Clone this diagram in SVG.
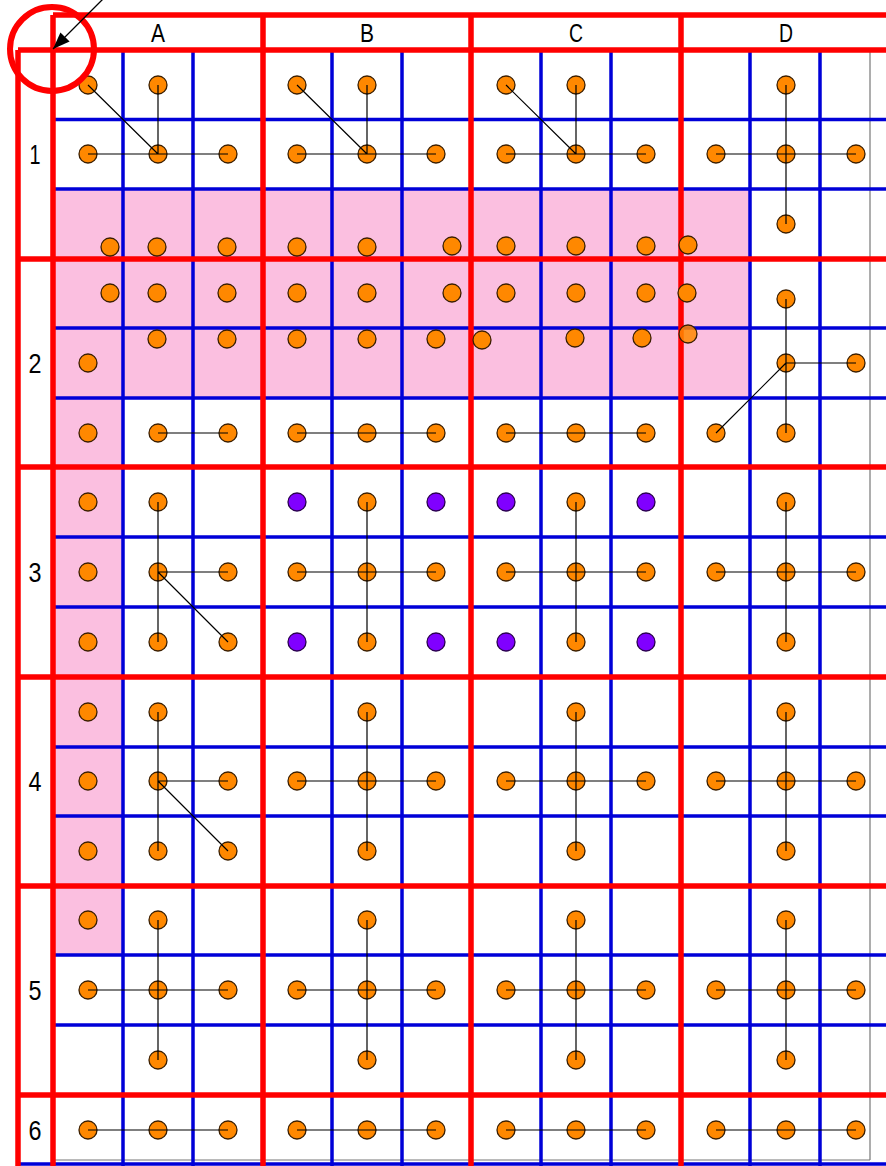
<svg xmlns="http://www.w3.org/2000/svg" width="886" height="1166" viewBox="0 0 886 1166">
<style>
.bg{fill:#ffffff}
.pink{fill:#fbbfe0}
.red{stroke:#ff0000;stroke-width:5.5;fill:none}
.blue{stroke:#0000d8;stroke-width:3.5;fill:none}
.thin{stroke:#777;stroke-width:1.2;fill:none}
.o{fill:#ff8800;stroke:#3a1e00;stroke-width:1.3}
.p{fill:#8000ff;stroke:#2a0050;stroke-width:1.3}
.c{stroke:#000;stroke-width:1.2;fill:none}
.hd{font-family:"Liberation Sans","DejaVu Sans",sans-serif;font-size:25px;fill:#000;text-anchor:middle}
.rl{font-family:"Liberation Sans","DejaVu Sans",sans-serif;font-size:27px;fill:#000;text-anchor:middle}
</style>
<defs>
<marker id="ah" markerWidth="17" markerHeight="13" refX="17" refY="6.5" orient="auto" markerUnits="userSpaceOnUse" viewBox="0 0 17 13">
<path d="M0,0 L17,6.5 L0,13 z" fill="#000"/>
</marker>
</defs>
<rect class="bg" x="0" y="0" width="886" height="1166"/>
<g id="pink-area">
<rect class="pink" x="53" y="189" width="697" height="209"/>
<rect class="pink" x="53" y="398" width="70" height="557"/>
</g>
<g id="grid">
<path class="thin" d="M870,50 V1160 M53,1160 H870"/>
<path class="blue" d="M123,50V1166 M193,50V1166 M332,50V1166 M402,50V1166 M541,50V1166 M611,50V1166 M750,50V1166 M820,50V1166"/>
<path class="blue" d="M53,119.5H886 M53,189H886 M53,328H886 M53,398H886 M53,537H886 M53,607H886 M53,747H886 M53,816H886 M53,955H886 M53,1025H886 M18,1164H886"/>
<path class="red" d="M18,50V1166 M53,15V1166 M263,15V1166 M471,15V1166 M681,15V1166"/>
<path class="red" d="M53,15H886 M18,50H886 M18,259H886 M18,467H886 M18,677H886 M18,886H886 M18,1095H886"/>
</g>
<g id="headers">
<text class="hd" x="158" y="42" textLength="14" lengthAdjust="spacingAndGlyphs">A</text>
<text class="hd" x="367" y="42" textLength="14" lengthAdjust="spacingAndGlyphs">B</text>
<text class="hd" x="576" y="42" textLength="14" lengthAdjust="spacingAndGlyphs">C</text>
<text class="hd" x="786" y="42" textLength="14" lengthAdjust="spacingAndGlyphs">D</text>
</g>
<g id="row-labels">
<text class="rl" x="35" y="164" textLength="11" lengthAdjust="spacingAndGlyphs">1</text>
<text class="rl" x="35" y="373" textLength="13" lengthAdjust="spacingAndGlyphs">2</text>
<text class="rl" x="35" y="582" textLength="13" lengthAdjust="spacingAndGlyphs">3</text>
<text class="rl" x="35" y="791" textLength="13" lengthAdjust="spacingAndGlyphs">4</text>
<text class="rl" x="35" y="1000" textLength="13" lengthAdjust="spacingAndGlyphs">5</text>
<text class="rl" x="35" y="1140" textLength="13" lengthAdjust="spacingAndGlyphs">6</text>
</g>
<g id="nodes">
<g id="n-A1"><circle class="o" cx="88" cy="85" r="9"/><circle class="o" cx="158" cy="85" r="9"/><circle class="o" cx="88" cy="154" r="9"/><circle class="o" cx="158" cy="154" r="9"/><circle class="o" cx="228" cy="154" r="9"/></g>
<g id="n-B1"><circle class="o" cx="297" cy="85" r="9"/><circle class="o" cx="367" cy="85" r="9"/><circle class="o" cx="297" cy="154" r="9"/><circle class="o" cx="367" cy="154" r="9"/><circle class="o" cx="436" cy="154" r="9"/></g>
<g id="n-C1"><circle class="o" cx="506" cy="85" r="9"/><circle class="o" cx="576" cy="85" r="9"/><circle class="o" cx="506" cy="154" r="9"/><circle class="o" cx="576" cy="154" r="9"/><circle class="o" cx="646" cy="154" r="9"/></g>
<g id="n-D1"><circle class="o" cx="786" cy="85" r="9"/><circle class="o" cx="716" cy="154" r="9"/><circle class="o" cx="786" cy="154" r="9"/><circle class="o" cx="856" cy="154" r="9"/><circle class="o" cx="786" cy="224" r="9"/></g>
<g id="n-pink-row1">
<circle class="o" cx="110" cy="247" r="9"/><circle class="o" cx="157" cy="247" r="9"/><circle class="o" cx="227" cy="247" r="9"/><circle class="o" cx="297" cy="247" r="9"/><circle class="o" cx="367" cy="247" r="9"/><circle class="o" cx="452" cy="246" r="9"/><circle class="o" cx="506" cy="246" r="9"/><circle class="o" cx="576" cy="246" r="9"/><circle class="o" cx="646" cy="246" r="9"/><circle class="o" cx="688" cy="245" r="9"/>
</g>
<g id="n-pink-row2">
<circle class="o" cx="110" cy="293" r="9"/><circle class="o" cx="157" cy="293" r="9"/><circle class="o" cx="227" cy="293" r="9"/><circle class="o" cx="297" cy="293" r="9"/><circle class="o" cx="367" cy="293" r="9"/><circle class="o" cx="452" cy="293" r="9"/><circle class="o" cx="506" cy="293" r="9"/><circle class="o" cx="576" cy="293" r="9"/><circle class="o" cx="646" cy="293" r="9"/><circle class="o" cx="687" cy="293" r="9"/>
</g>
<g id="n-pink-row3">
<circle class="o" cx="157" cy="339" r="9"/><circle class="o" cx="227" cy="339" r="9"/><circle class="o" cx="297" cy="339" r="9"/><circle class="o" cx="367" cy="339" r="9"/><circle class="o" cx="436" cy="339" r="9"/><circle class="o" cx="482" cy="340" r="9"/><circle class="o" cx="575" cy="338" r="9"/><circle class="o" cx="642" cy="338" r="9"/><circle class="o" cx="688" cy="334" r="9" fill-opacity="0.85"/>
<circle class="o" cx="88" cy="363" r="9"/>
</g>
<g id="n-row2-bottom">
<circle class="o" cx="88" cy="433" r="9"/><circle class="o" cx="158" cy="433" r="9"/><circle class="o" cx="228" cy="433" r="9"/><circle class="o" cx="297" cy="433" r="9"/><circle class="o" cx="367" cy="433" r="9"/><circle class="o" cx="436" cy="433" r="9"/><circle class="o" cx="506" cy="433" r="9"/><circle class="o" cx="576" cy="433" r="9"/><circle class="o" cx="646" cy="433" r="9"/>
</g>
<g id="n-D2"><circle class="o" cx="786" cy="299" r="9"/><circle class="o" cx="786" cy="363" r="9"/><circle class="o" cx="856" cy="363" r="9"/><circle class="o" cx="716" cy="433" r="9"/><circle class="o" cx="786" cy="433" r="9"/></g>
<g id="n-A3"><circle class="o" cx="88" cy="502" r="9"/><circle class="o" cx="88" cy="572" r="9"/><circle class="o" cx="88" cy="642" r="9"/><circle class="o" cx="158" cy="502" r="9"/><circle class="o" cx="158" cy="572" r="9"/><circle class="o" cx="158" cy="642" r="9"/><circle class="o" cx="228" cy="572" r="9"/><circle class="o" cx="228" cy="642" r="9"/></g>
<g id="n-B3"><circle class="p" cx="297" cy="502" r="9"/><circle class="p" cx="436" cy="502" r="9"/><circle class="p" cx="297" cy="642" r="9"/><circle class="p" cx="436" cy="642" r="9"/><circle class="o" cx="367" cy="502" r="9"/><circle class="o" cx="297" cy="572" r="9"/><circle class="o" cx="367" cy="572" r="9"/><circle class="o" cx="436" cy="572" r="9"/><circle class="o" cx="367" cy="642" r="9"/></g>
<g id="n-C3"><circle class="p" cx="506" cy="502" r="9"/><circle class="p" cx="646" cy="502" r="9"/><circle class="p" cx="506" cy="642" r="9"/><circle class="p" cx="646" cy="642" r="9"/><circle class="o" cx="576" cy="502" r="9"/><circle class="o" cx="506" cy="572" r="9"/><circle class="o" cx="576" cy="572" r="9"/><circle class="o" cx="646" cy="572" r="9"/><circle class="o" cx="576" cy="642" r="9"/></g>
<g id="n-D3"><circle class="o" cx="786" cy="502" r="9"/><circle class="o" cx="716" cy="572" r="9"/><circle class="o" cx="786" cy="572" r="9"/><circle class="o" cx="856" cy="572" r="9"/><circle class="o" cx="786" cy="642" r="9"/></g>
<g id="n-A4"><circle class="o" cx="88" cy="712" r="9"/><circle class="o" cx="88" cy="781" r="9"/><circle class="o" cx="88" cy="851" r="9"/><circle class="o" cx="158" cy="712" r="9"/><circle class="o" cx="158" cy="781" r="9"/><circle class="o" cx="158" cy="851" r="9"/><circle class="o" cx="228" cy="781" r="9"/><circle class="o" cx="228" cy="851" r="9"/></g>
<g id="n-B4"><circle class="o" cx="367" cy="712" r="9"/><circle class="o" cx="297" cy="781" r="9"/><circle class="o" cx="367" cy="781" r="9"/><circle class="o" cx="436" cy="781" r="9"/><circle class="o" cx="367" cy="851" r="9"/></g>
<g id="n-C4"><circle class="o" cx="576" cy="712" r="9"/><circle class="o" cx="506" cy="781" r="9"/><circle class="o" cx="576" cy="781" r="9"/><circle class="o" cx="646" cy="781" r="9"/><circle class="o" cx="576" cy="851" r="9"/></g>
<g id="n-D4"><circle class="o" cx="786" cy="712" r="9"/><circle class="o" cx="716" cy="781" r="9"/><circle class="o" cx="786" cy="781" r="9"/><circle class="o" cx="856" cy="781" r="9"/><circle class="o" cx="786" cy="851" r="9"/></g>
<g id="n-A5"><circle class="o" cx="88" cy="920" r="9"/><circle class="o" cx="158" cy="920" r="9"/><circle class="o" cx="88" cy="990" r="9"/><circle class="o" cx="158" cy="990" r="9"/><circle class="o" cx="228" cy="990" r="9"/><circle class="o" cx="158" cy="1060" r="9"/></g>
<g id="n-B5"><circle class="o" cx="367" cy="920" r="9"/><circle class="o" cx="297" cy="990" r="9"/><circle class="o" cx="367" cy="990" r="9"/><circle class="o" cx="436" cy="990" r="9"/><circle class="o" cx="367" cy="1060" r="9"/></g>
<g id="n-C5"><circle class="o" cx="576" cy="920" r="9"/><circle class="o" cx="506" cy="990" r="9"/><circle class="o" cx="576" cy="990" r="9"/><circle class="o" cx="646" cy="990" r="9"/><circle class="o" cx="576" cy="1060" r="9"/></g>
<g id="n-D5"><circle class="o" cx="786" cy="920" r="9"/><circle class="o" cx="716" cy="990" r="9"/><circle class="o" cx="786" cy="990" r="9"/><circle class="o" cx="856" cy="990" r="9"/><circle class="o" cx="786" cy="1060" r="9"/></g>
<g id="n-row6"><circle class="o" cx="88" cy="1130" r="9"/><circle class="o" cx="158" cy="1130" r="9"/><circle class="o" cx="228" cy="1130" r="9"/><circle class="o" cx="297" cy="1130" r="9"/><circle class="o" cx="367" cy="1130" r="9"/><circle class="o" cx="436" cy="1130" r="9"/><circle class="o" cx="506" cy="1130" r="9"/><circle class="o" cx="576" cy="1130" r="9"/><circle class="o" cx="646" cy="1130" r="9"/><circle class="o" cx="716" cy="1130" r="9"/><circle class="o" cx="786" cy="1130" r="9"/><circle class="o" cx="856" cy="1130" r="9"/></g>
</g>
<g id="connectors">
<path class="c" d="M88,85L158,154 M158,85V154 M88,154H228"/>
<path class="c" d="M297,85L367,154 M367,85V154 M297,154H436"/>
<path class="c" d="M506,85L576,154 M576,85V154 M506,154H646"/>
<path class="c" d="M786,85V224 M716,154H856"/>
<path class="c" d="M158,433H228 M297,433H436 M506,433H646"/>
<path class="c" d="M786,299V433 M786,363H856 M716,433L786,363"/>
<path class="c" d="M158,502V642 M158,572H228 M158,572L228,642"/>
<path class="c" d="M367,502V642 M297,572H436 M576,502V642 M506,572H646 M786,502V642 M716,572H856"/>
<path class="c" d="M158,712V851 M158,781H228 M158,781L228,851"/>
<path class="c" d="M367,712V851 M297,781H436 M576,712V851 M506,781H646 M786,712V851 M716,781H856"/>
<path class="c" d="M158,920V1060 M88,990H228 M367,920V1060 M297,990H436 M576,920V1060 M506,990H646 M786,920V1060 M716,990H856"/>
<path class="c" d="M88,1130H228 M297,1130H436 M506,1130H646 M716,1130H856"/>
</g>
<g id="corner-marker">
<circle cx="52" cy="49" r="42" fill="none" stroke="#ff0000" stroke-width="6"/>
<line x1="106" y1="-4" x2="53" y2="49" stroke="#000" stroke-width="1.3" marker-end="url(#ah)"/>
</g>
</svg>
